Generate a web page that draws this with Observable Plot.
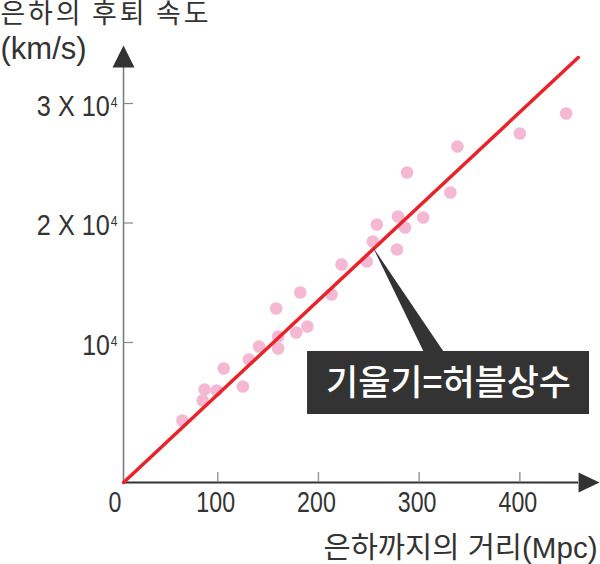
<!DOCTYPE html>
<html>
<head>
<meta charset="utf-8">
<script src="https://cdn.jsdelivr.net/npm/d3@7"></script>
<script src="https://cdn.jsdelivr.net/npm/@observablehq/plot@0.6"></script>
<style>
  html, body { margin: 0; padding: 0; background: #fff; }
  #chart svg { display: block; }
</style>
</head>
<body>
<div id="chart"></div>
<script>
// Galaxy data: distance (Mpc) vs recession velocity (km/s)
const distance = [65, 85, 87, 99, 106, 125, 131, 141, 158, 160, 160, 178, 182, 189,
  213, 223, 248, 254, 258, 278, 279, 286, 288, 304, 331, 338, 400, 446];
const velocity = [3470, 5150, 6070, 5980, 7820, 6320, 8580, 9670, 12850, 9500, 10500, 10840, 14180, 11340,
  14020, 16530, 16780, 18450, 19870, 17780, 20540, 19620, 24230, 20460, 22550, 26400, 27490, 29160];

// Fitted line (Hubble law) endpoints
const fitDistance = [6.5, 458];
const fitVelocity = [-1715, 33850];

// Axis ticks and labels
const xTicks = [0, 100, 200, 300, 400];
const xTickLabels = ["0", "100", "200", "300", "400"];
const yTicks = [10000, 20000, 30000];
const yTickLabels = ["10", "2 X 10", "3 X 10"];
const yTickSup = ["4", "4", "4"];

const yTitle1 = "은하의 후퇴 속도";
const yTitle2 = "(km/s)";
const xTitle = "은하까지의 거리(Mpc)";
const noteText = "기울기=허블상수";

// Axis geometry (data units)
const cornerX = 6.45, cornerY = -1715;
const xAxisEnd = 458.3, yAxisEnd = 33013;
// Annotation geometry (data units)
const noteBox = {x1: 189.2, x2: 469.2, y1: 3975, y2: 9247};
const pointer = [
  {x: 253.7, y: 18033},
  {x: 304.4, y: 9247},
  {x: 324.2, y: 9247}
];

const galaxies = distance.map((d, i) => ({distance: d, velocity: velocity[i]}));
const fit = fitDistance.map((d, i) => ({distance: d, velocity: fitVelocity[i]}));

const upArrow = {draw(ctx) { ctx.moveTo(0, -22); ctx.lineTo(11, 0); ctx.lineTo(-11, 0); ctx.closePath(); }};
const rightArrow = {draw(ctx) { ctx.moveTo(21, 0); ctx.lineTo(0, -10); ctx.lineTo(0, 10); ctx.closePath(); }};

const latin = "'Liberation Sans', Arial, sans-serif";
const korean = "'Noto Sans CJK KR', 'Noto Sans', sans-serif";
const mixed = "'Liberation Sans', 'Noto Sans CJK KR', sans-serif";

const chart = Plot.plot({
  width: 600,
  height: 564,
  margin: 0,
  x: {domain: [-115.7, 480.1], axis: null},
  y: {domain: [-8577, 38619], axis: null},
  marks: [
    // axes
    Plot.ruleX([cornerX], {y1: cornerY, y2: yAxisEnd, stroke: "#777", strokeWidth: 1.5}),
    Plot.ruleY([cornerY], {x1: cornerX, x2: xAxisEnd, stroke: "#333", strokeWidth: 2}),
    Plot.ruleX(xTicks.slice(1), {x: d => d, y1: cornerY, y2: cornerY + 837, stroke: "#999", strokeWidth: 1.5}),
    Plot.ruleY(yTicks, {y: d => d, x1: cornerX, x2: cornerX + 10, stroke: "#888", strokeWidth: 1.2}),
    Plot.dot([{x: cornerX, y: yAxisEnd}], {x: "x", y: "y", symbol: upArrow, fill: "#333", stroke: null}),
    Plot.dot([{x: xAxisEnd, y: cornerY}], {x: "x", y: "y", symbol: rightArrow, fill: "#333", stroke: null}),
    // tick labels
    Plot.text(xTicks, {x: d => d, y: cornerY, text: (d, i) => xTickLabels[i], dy: 20, dx: -2,
      fontSize: 29, fontFamily: latin, fill: "#333", lineAnchor: "middle", className: "xtick"}),
    Plot.text(yTicks, {x: cornerX, y: d => d, text: (d, i) => yTickLabels[i], dx: -6, dy: 3,
      textAnchor: "end", fontSize: 29, fontFamily: latin, fill: "#333", lineAnchor: "middle", className: "ytick"}),
    // data
    Plot.dot(galaxies, {x: "distance", y: "velocity", r: 6.3, fill: "#f5b8d3", stroke: null}),
    Plot.line(fit, {x: "distance", y: "velocity", stroke: "#e8232a", strokeWidth: 3.5}),
    // annotation
    Plot.line(pointer, {x: "x", y: "y", fill: "#333", stroke: null}),
    Plot.rect([noteBox], {x1: "x1", x2: "x2", y1: "y1", y2: "y2", fill: "#333"}),
    Plot.text([noteText], {x: (noteBox.x1 + noteBox.x2) / 2, y: (noteBox.y1 + noteBox.y2) / 2,
      text: d => d, fill: "#fff", fontSize: 35, fontWeight: 500, fontFamily: korean,
      lineAnchor: "middle", dy: 1, className: "note"}),
    // titles
    Plot.text([yTitle1], {frameAnchor: "top-left", text: d => d, dx: 0, dy: 3,
      fontSize: 27, fontFamily: korean, fill: "#333", textAnchor: "start", lineAnchor: "top", className: "ytitle1"}),
    Plot.text([yTitle2], {frameAnchor: "top-left", text: d => d, dx: 0, dy: 36,
      fontSize: 31, fontFamily: latin, fill: "#333", textAnchor: "start", lineAnchor: "top"}),
    Plot.text([xTitle], {frameAnchor: "bottom-right", text: d => d, dx: -3, dy: -7,
      fontSize: 29, fontFamily: mixed, fill: "#333",
      textAnchor: "end", lineAnchor: "bottom", className: "xtitle"})
  ]
});

document.getElementById("chart").appendChild(chart);

const svg = d3.select(chart);
// superscript exponent inside the y tick labels
svg.selectAll("g.ytick text").each(function(d, i) {
  const t = d3.select(this);
  const base = t.text();
  t.text(null);
  t.append("tspan").text(base);
  t.append("tspan").attr("dx", 1).attr("dy", -9).attr("font-size", 14).text(yTickSup[i]);
});
// condense texts to match the reference's narrow typeface
svg.selectAll("g.note text").attr("textLength", 245).attr("lengthAdjust", "spacingAndGlyphs");
svg.selectAll("g.xtitle text").attr("textLength", 274).attr("lengthAdjust", "spacingAndGlyphs");
svg.selectAll("g.ytitle1 text").attr("textLength", 208).attr("lengthAdjust", "spacing");
function squish(sel, f) {
  sel.each(function() {
    const w = this.getComputedTextLength();
    d3.select(this).attr("textLength", w * f).attr("lengthAdjust", "spacingAndGlyphs");
  });
}
squish(svg.selectAll("g.xtick text"), 0.8);
squish(svg.selectAll("g.ytick text"), 0.88);
</script>
</body>
</html>
